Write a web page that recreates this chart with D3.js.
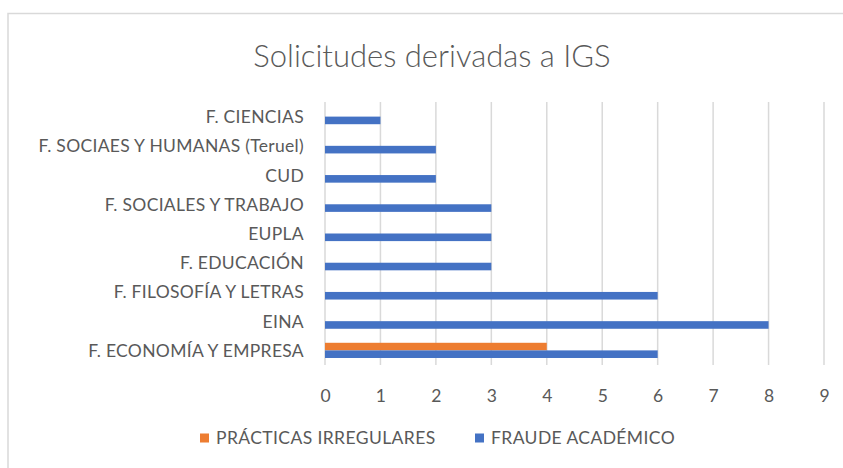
<!DOCTYPE html>
<html>
<head>
<meta charset="utf-8">
<script src="https://cdn.jsdelivr.net/npm/d3@7"></script>
<style>
  html, body { margin: 0; padding: 0; background: #fff; }
  svg { display: block; font-family: Lato, "Open Sans", sans-serif; }
</style>
</head>
<body>
<svg id="chart" width="843" height="468"></svg>
<script>
// Faculties, listed top to bottom
const categories = [
  "F. CIENCIAS",
  "F. SOCIAES Y HUMANAS (Teruel)",
  "CUD",
  "F. SOCIALES Y TRABAJO",
  "EUPLA",
  "F. EDUCACIÓN",
  "F. FILOSOFÍA Y LETRAS",
  "EINA",
  "F. ECONOMÍA Y EMPRESA"
];
const seriesNames = ["PRÁCTICAS IRREGULARES", "FRAUDE ACADÉMICO"];
const practicasIrregulares = [0, 0, 0, 0, 0, 0, 0, 0, 4];
const fraudeAcademico      = [1, 2, 2, 3, 3, 3, 6, 8, 6];
const xTicks = [0, 1, 2, 3, 4, 5, 6, 7, 8, 9];
const seriesColors = ["#ED7D31", "#4472C4"];

const svg = d3.select("#chart");
const textColor = "#595959";
const gridColor = "#D9D9D9";
const fontStack = "Lato, 'Open Sans', sans-serif";

// Chart frame
svg.append("path")
  .attr("d", "M8,470 L8,13.5 L845,13.5")
  .attr("fill", "none")
  .attr("stroke", "#D9D9D9")
  .attr("stroke-width", 1.5);

// Title
svg.append("text")
  .attr("x", 432).attr("y", 67)
  .attr("text-anchor", "middle")
  .attr("fill", textColor)
  .attr("font-size", 31)
  .attr("font-weight", 300)
  .text("Solicitudes derivadas a IGS");

const plot = { left: 325, right: 824, top: 102, bottom: 365 };

const x = d3.scaleLinear().domain([0, 9]).range([plot.left, plot.right]);
const y = d3.scaleBand().domain(categories).range([plot.top, plot.bottom]).paddingInner(0).paddingOuter(0);
const sub = d3.scaleBand().domain(seriesNames)
  .range([y.bandwidth() / 2 - 7.6, y.bandwidth() / 2 + 7.6]);

// Vertical gridlines
svg.append("g")
  .selectAll("line")
  .data(xTicks)
  .join("line")
  .attr("x1", d => x(d)).attr("x2", d => x(d))
  .attr("y1", plot.top).attr("y2", plot.bottom)
  .attr("stroke", gridColor)
  .attr("stroke-width", 1.5);

// X axis tick labels
const xAxis = d3.axisBottom(x).tickValues(xTicks).tickSize(0).tickPadding(0).tickFormat(d3.format("d"));
const gx = svg.append("g")
  .attr("transform", `translate(0, ${plot.bottom + 37})`)
  .call(xAxis);
gx.select(".domain").remove();
gx.selectAll("text")
  .attr("fill", textColor)
  .attr("font-size", 17.5)
  .attr("font-family", fontStack)
  .attr("dy", 0);

// Category labels
const yAxis = d3.axisLeft(y).tickSize(0).tickPadding(21);
const gy = svg.append("g")
  .attr("transform", `translate(${plot.left}, 0)`)
  .call(yAxis);
gy.select(".domain").remove();
gy.selectAll("text")
  .attr("fill", textColor)
  .attr("font-size", 17.5)
  .attr("letter-spacing", 0.3)
  .attr("font-family", fontStack)
  .attr("dy", "0.37em");

// Bars
const rows = categories.map((c, i) => ({
  cat: c,
  vals: [practicasIrregulares[i], fraudeAcademico[i]]
}));

const groups = svg.append("g")
  .selectAll("g")
  .data(rows)
  .join("g")
  .attr("transform", d => `translate(0, ${y(d.cat)})`);

groups.selectAll("rect")
  .data(d => d.vals.map((v, j) => ({ name: seriesNames[j], value: v, color: seriesColors[j] })))
  .join("rect")
  .filter(d => d.value > 0)
  .attr("x", x(0))
  .attr("y", d => sub(d.name))
  .attr("width", d => x(d.value) - x(0))
  .attr("height", sub.bandwidth())
  .attr("fill", d => d.color);

// Legend
const legendItems = [
  { name: seriesNames[0], color: seriesColors[0], x: 200 },
  { name: seriesNames[1], color: seriesColors[1], x: 475 }
];
const lg = svg.append("g")
  .selectAll("g")
  .data(legendItems)
  .join("g")
  .attr("transform", d => `translate(${d.x}, 438)`);
lg.append("rect")
  .attr("x", 0).attr("y", -4.5)
  .attr("width", 9).attr("height", 9)
  .attr("fill", d => d.color);
lg.append("text")
  .attr("x", 16).attr("y", 0)
  .attr("dy", "0.36em")
  .attr("fill", textColor)
  .attr("font-size", 17.5)
  .attr("letter-spacing", 0.4)
  .text(d => d.name);
</script>
</body>
</html>
